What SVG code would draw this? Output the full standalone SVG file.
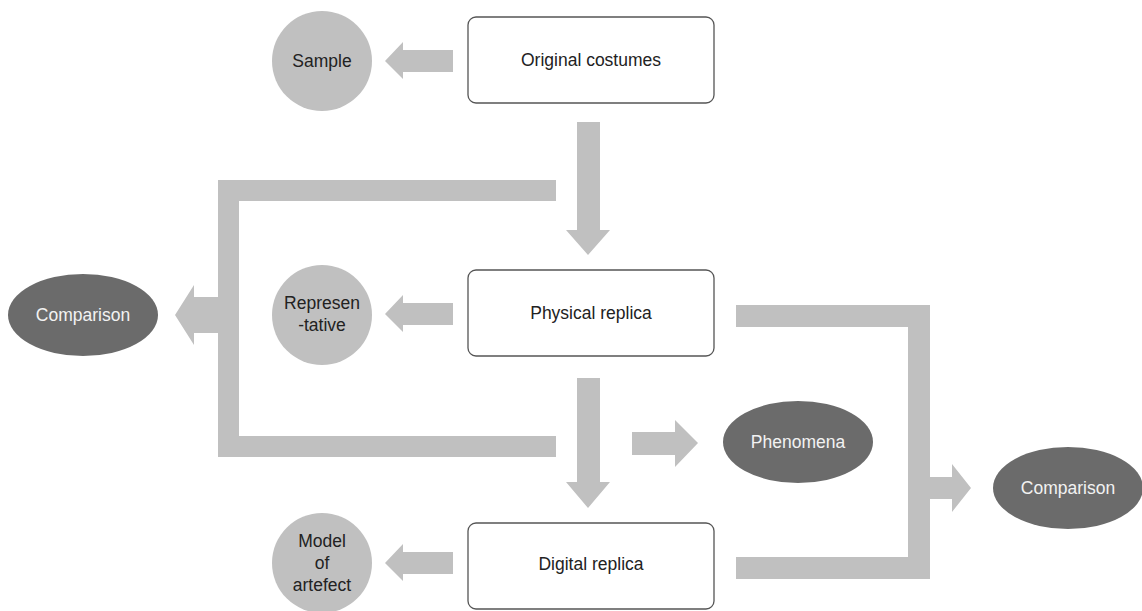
<svg xmlns="http://www.w3.org/2000/svg" width="1142" height="611" viewBox="0 0 1142 611">
<style>
.box{fill:#fff;stroke:#555;stroke-width:1.3}
.circ{fill:#c0c0c0}
.ell{fill:#6b6b6b}
.arr{fill:#c0c0c0}
text{font-family:"Liberation Sans",Arial,sans-serif;font-size:17.5px;text-anchor:middle}
.dk{fill:#222}
.lt{fill:#f2f2f2}
</style>
<g id="connectors">
<polygon class="arr" points="453,50 403,50 403,42 385,61 403,79 403,72 453,72"/>
<polygon class="arr" points="577,122 600,122 600,230 610,230 588,255 566,230 577,230"/>
<polygon class="arr" points="453,303 403,303 403,295 385,314 403,332 403,325 453,325"/>
<polygon class="arr" points="577,378 600,378 600,482 610,482 588,508 566,482 577,482"/>
<polygon class="arr" points="453,552 403,552 403,544 385,563 403,581 403,574 453,574"/>
<polygon class="arr" points="556,180 556,201 239,201 239,436 556,436 556,457 218,457 218,333 194,333 194,345 175,315 194,285 194,297 218,297 218,180"/>
<polygon class="arr" points="632,432 675,432 675,420 698,443 675,467 675,455 632,455"/>
<polygon class="arr" points="736,305 930,305 930,477 952,477 952,464 971,488 952,512 952,499 930,499 930,579 736,579 736,557 908,557 908,327 736,327"/>
</g>
<g id="n-original"><rect class="box" x="468" y="17" width="246" height="86" rx="8"/><text class="dk" x="591" y="66">Original costumes</text></g>
<g id="n-sample"><circle class="circ" cx="322" cy="61" r="50"/><text class="dk" x="322" y="67">Sample</text></g>
<g id="n-physical"><rect class="box" x="468" y="270" width="246" height="86" rx="8"/><text class="dk" x="591" y="319">Physical replica</text></g>
<g id="n-representative"><circle class="circ" cx="322" cy="315" r="50"/><text class="dk" x="322" y="309">Represen</text><text class="dk" x="322" y="331">-tative</text></g>
<g id="n-digital"><rect class="box" x="468" y="523" width="246" height="86" rx="8"/><text class="dk" x="591" y="570">Digital replica</text></g>
<g id="n-model"><circle class="circ" cx="322" cy="563" r="50"/><text class="dk" x="322" y="547">Model</text><text class="dk" x="322" y="569">of</text><text class="dk" x="322" y="591">artefect</text></g>
<g id="n-comparison-left"><ellipse class="ell" cx="83" cy="315" rx="75" ry="41"/><text class="lt" x="83" y="321">Comparison</text></g>
<g id="n-phenomena"><ellipse class="ell" cx="798" cy="442" rx="75" ry="41"/><text class="lt" x="798" y="448">Phenomena</text></g>
<g id="n-comparison-right"><ellipse class="ell" cx="1068" cy="488" rx="75" ry="41"/><text class="lt" x="1068" y="494">Comparison</text></g>
</svg>
